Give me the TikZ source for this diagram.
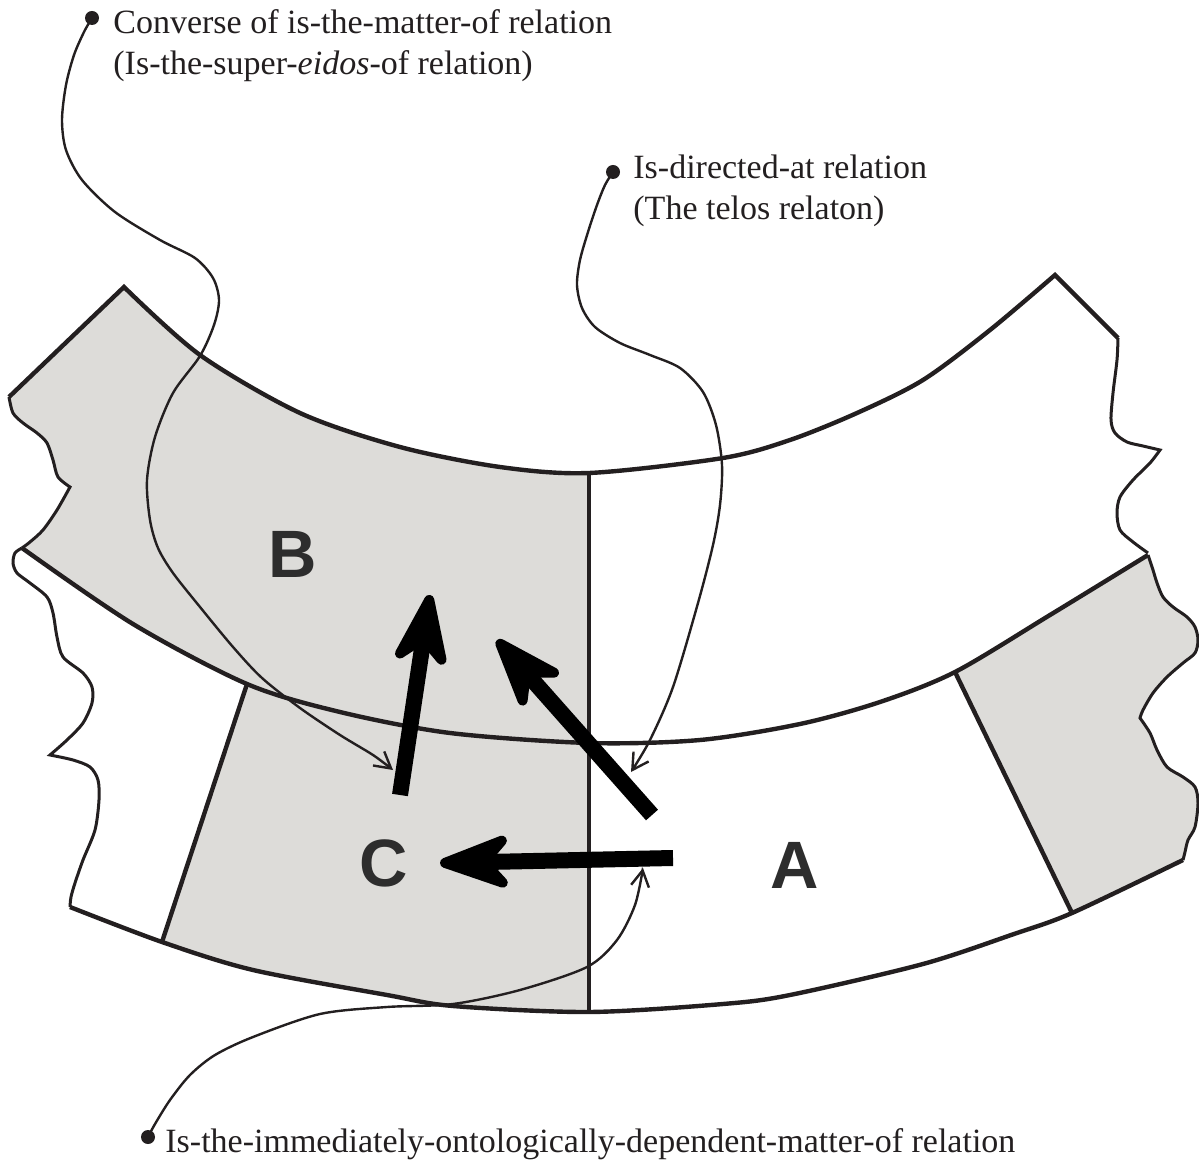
\documentclass[tikz,border=0pt]{standalone}
\usepackage{fontspec}
\setmainfont{Liberation Serif}
\newfontfamily\lettfont{Liberation Sans}
\usetikzlibrary{arrows.meta}
\definecolor{shadegray}{RGB}{221,220,217}
\definecolor{ink}{RGB}{35,31,32}
\definecolor{lettgray}{RGB}{45,45,45}

% band curves (pixel coordinates, y downwards negated)
\def\zzTop{--plot[smooth] coordinates {(124,-287) (200,-355) (300,-413) (400,-447) (500,-467) (589,-473) (723,-458) (790,-440) (857,-413) (923,-380) (990,-330) (1055,-275)}}
\def\zzURa{--plot[smooth] coordinates {(1118,-338) (1117,-360) (1113,-393) (1111,-420) (1115,-433) (1127,-442) (1143,-446) (1160,-450)}}
\def\zzURb{--plot[smooth] coordinates {(1160,-450) (1150,-463) (1133,-480) (1120,-497) (1117,-513) (1120,-530) (1133,-542) (1148,-553)}}
\def\zzSA{--plot[smooth] coordinates {(22,-548) (133,-624) (247,-684) (340,-712) (450,-733) (589,-743) (700,-740) (800,-724) (880,-702) (955,-672) (1050,-615) (1148,-555)}}
\def\zzSAr{--plot[smooth] coordinates {(1148,-555) (1050,-615) (955,-672) (880,-702) (800,-724) (700,-740) (589,-743) (450,-733) (340,-712) (247,-684) (133,-624) (22,-548)}}
\def\zzULb{--plot[smooth] coordinates {(22,-548) (30,-542) (43,-530) (57,-510) (70,-487)}}
\def\zzULa{--plot[smooth] coordinates {(70,-487) (58,-477) (53,-460) (47,-443) (37,-433) (23,-423) (13,-413) (9,-397)}}
\def\zzLRa{--plot[smooth] coordinates {(1148,-555) (1153,-570) (1157,-583) (1163,-597) (1173,-607) (1187,-617) (1195,-627) (1198,-640) (1195,-653) (1183,-663) (1167,-677) (1153,-693) (1143,-710) (1140,-718)}}
\def\zzLRb{--plot[smooth] coordinates {(1140,-718) (1150,-733) (1157,-750) (1167,-767) (1183,-777) (1195,-787) (1198,-803) (1195,-827) (1188,-840) (1185,-852) (1183,-860)}}
\def\zzBAr{--plot[smooth] coordinates {(1183,-860) (1072,-913) (1014,-934) (923,-964) (790,-995) (723,-1004) (589,-1012) (453,-1006) (387,-995) (253,-970) (162,-942) (70,-907)}}
\def\zzLLb{--plot[smooth] coordinates {(70,-907) (71,-897) (75,-883) (83,-860) (95,-830) (99,-800) (98,-780) (90,-767) (73,-760) (50,-755)}}
\def\zzLLa{--plot[smooth] coordinates {(50,-755) (67,-740) (83,-723) (92,-703) (92,-687) (83,-673) (63,-657) (57,-637) (53,-613) (47,-597) (30,-583) (17,-573) (13,-563) (15,-553) (22,-548)}}
\def\zzUpper{(9,-397) -- (124,-287) \zzTop -- (1118,-338) \zzURa \zzURb \zzSAr \zzULb \zzULa -- cycle}
\def\zzLower{(22,-548) \zzSA \zzLRa \zzLRb \zzBAr \zzLLb \zzLLa -- cycle}

\begin{document}
\begin{tikzpicture}[x=0.5pt,y=0.5pt,
  bandline/.style={line width=2.2pt, draw=ink, line join=miter},
  wavepath/.style={line width=1.5pt, draw=ink},
  grayfill/.style={fill=shadegray},
  conn/.style={line width=1.2pt, draw=ink, -{Straight Barb[length=8pt,width=9pt]}},
  dot/.style={circle, fill=ink, inner sep=0pt, minimum size=7pt},
  lbl/.style={font=\fontsize{17}{20.5}\selectfont, text=ink, inner sep=0pt, anchor=base west},
  letter/.style={font=\lettfont\bfseries\fontsize{33.5}{33.5}\selectfont, text=lettgray, inner sep=0pt, anchor=base},
  bigarrow/.style={line width=8pt, draw=black, -{Stealth[length=44pt,width=32pt,inset=14pt,round,line width=5pt]}}
]
\useasboundingbox (0,0) rectangle (1199,-1165);

% grey fills
\begin{scope}
  \clip (-20,-250) rectangle (589,-800);
  \fill[grayfill] \zzUpper;
\end{scope}
\begin{scope}
  \clip (272.5,-606.6) -- (589,-606.6) -- (589,-1030) -- (136.5,-1019.4) -- cycle;
  \fill[grayfill] \zzLower;
\end{scope}
\begin{scope}
  \clip (885,-527) -- (1220,-527) -- (1220,-985.3) -- (1107.1,-985.3) -- cycle;
  \fill[grayfill] \zzLower;
\end{scope}

% outlines
\draw[bandline] (9,-397) -- (124,-287) \zzTop -- (1118,-338);
\draw[bandline] (22,-548) \zzSA;
\draw[bandline] (1183,-860) \zzBAr;
\draw[bandline] (589,-473) -- (589,-1012);
\draw[bandline] (247,-684) -- (162,-942);
\draw[bandline] (955,-672) -- (1072,-913);
\draw[wavepath] (1118,-338) \zzURa \zzURb;
\draw[wavepath] (22,-548) \zzULb \zzULa;
\draw[wavepath] (70,-907) \zzLLb \zzLLa;
\draw[wavepath] (1148,-555) \zzLRa \zzLRb;

% labels with bullets
\node[dot] (d1) at (92,-18) {};
\node[lbl] (l1a) at (113,-34) {Converse of is-the-matter-of relation};
\node[lbl] (l1b) at (113,-75) {(Is-the-super-\textit{eidos}-of relation)};
\node[dot] (d2) at (613,-172) {};
\node[lbl] (l2a) at (633,-179) {Is-directed-at relation};
\node[lbl] (l2b) at (633,-220) {(The telos relaton)};
\node[dot] (d3) at (148,-1137) {};
\node[lbl] (l3) at (165,-1152) {Is-the-immediately-ontologically-dependent-matter-of relation};

\coordinate (t1) at (393,-770);
\coordinate (t2) at (631,-772);
\coordinate (t3) at (643,-868);

\draw[conn] plot[smooth] coordinates {(d1.center) (84,-32) (74,-55) (66,-85) (62,-120) (66,-150) (82,-180) (115,-212) (160,-240) (195,-258) (213,-278) (219,-300) (214,-325) (200,-356) (173,-393) (155,-437) (147,-480) (150,-520) (158,-548) (173,-573) (200,-607) (233,-647) (262,-678) (300,-708) (340,-735) (373,-755) (t1)};
\draw[conn] plot[smooth] coordinates {(d2.center) (605,-185) (597,-205) (588,-232) (580,-260) (577,-285) (582,-308) (595,-327) (620,-343) (650,-355) (680,-368) (703,-392) (716,-425) (722,-465) (720,-505) (713,-545) (698,-603) (673,-687) (650,-740) (t2)};
\draw[conn] plot[smooth] coordinates {(d3.center) (155,-1124) (170,-1100) (190,-1075) (215,-1055) (253,-1037) (320,-1014) (387,-1007) (453,-1004) (520,-990) (587,-967) (617,-940) (635,-905) (t3)};

% thick relation arrows
\coordinate (cb0) at (400,-795); \coordinate (cb1) at (430,-595);
\coordinate (ab0) at (652,-815); \coordinate (ab1) at (497,-640);
\coordinate (ac0) at (673,-858); \coordinate (ac1) at (440,-863);
\draw[bigarrow] (cb0) -- (cb1);
\draw[bigarrow] (ab0) -- (ab1);
\draw[bigarrow] (ac0) -- (ac1);

% letters
\node[letter] (B) at (293,-578) {B};
\node[letter] (C) at (384,-886) {C};
\node[letter] (A) at (795,-888) {A};
\end{tikzpicture}
\end{document}
